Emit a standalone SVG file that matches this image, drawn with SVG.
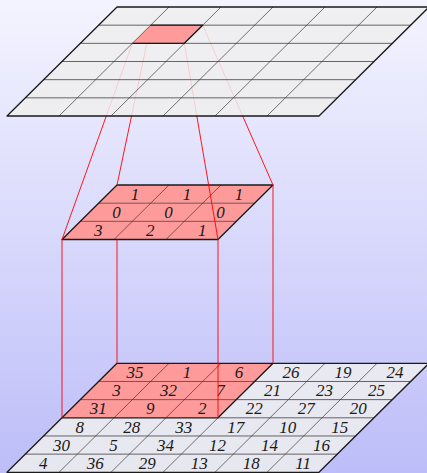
<svg xmlns="http://www.w3.org/2000/svg" width="427" height="473" viewBox="0 0 427 473">
<defs>
<linearGradient id="bg" x1="0" y1="0" x2="0" y2="1">
<stop offset="0" stop-color="#f4f4ff"/>
<stop offset="1" stop-color="#bdbdf9"/>
</linearGradient>
</defs>
<style>
.grid{fill:#efefef;fill-opacity:0.85;stroke:none}
.hl{fill:#ff9a9a;stroke:none}
.out{fill:none;stroke:#1a1a1a;stroke-width:1.3;stroke-linejoin:round}
.in{fill:none;stroke:#3a3a3a;stroke-width:0.7}
.rowl{fill:none;stroke:#555;stroke-width:0.9}
.con{stroke:#ff0000;stroke-width:0.9;fill:none}
text{font-family:"Liberation Serif","DejaVu Serif",serif;font-style:italic;font-size:17px;text-anchor:middle;fill:#1a1a1a}
</style>
<rect x="0" y="0" width="427" height="473" fill="url(#bg)"/>

<g id="input-grid">
<polygon class="grid" points="117,363.3 429,363.3 319,472.3 7,472.3"/>
<polygon class="hl" points="117,363.3 273,363.3 218,417.8 62,417.8"/>
<g class="rowl">
<line x1="98.67" y1="381.47" x2="410.67" y2="381.47"/>
<line x1="80.33" y1="399.63" x2="392.33" y2="399.63"/>
<line x1="43.67" y1="435.97" x2="355.67" y2="435.97"/>
<line x1="25.33" y1="454.13" x2="337.33" y2="454.13"/>
</g>
<line class="rowl" x1="218" y1="417.8" x2="374" y2="417.8"/>
<g class="in">
<line x1="169" y1="363.3" x2="59" y2="472.3"/>
<line x1="221" y1="363.3" x2="111" y2="472.3"/>
<line x1="273" y1="363.3" x2="163" y2="472.3"/>
<line x1="325" y1="363.3" x2="215" y2="472.3"/>
<line x1="377" y1="363.3" x2="267" y2="472.3"/>
</g>
<polyline class="out" points="62,417.8 218,417.8 273,363.3"/>
<polygon class="out" points="117,363.3 429,363.3 319,472.3 7,472.3"/>
<g>
<text x="135" y="378">35</text><text x="187" y="378">1</text><text x="239" y="378">6</text><text x="291" y="378">26</text><text x="343" y="378">19</text><text x="395" y="378">24</text>
<text x="116.5" y="396.2">3</text><text x="168.5" y="396.2">32</text><text x="220.5" y="396.2">7</text><text x="272.5" y="396.2">21</text><text x="324.5" y="396.2">23</text><text x="376.5" y="396.2">25</text>
<text x="98.2" y="414.3">31</text><text x="150.2" y="414.3">9</text><text x="202.2" y="414.3">2</text><text x="254.2" y="414.3">22</text><text x="306.2" y="414.3">27</text><text x="358.2" y="414.3">20</text>
<text x="79.8" y="432.5">8</text><text x="131.8" y="432.5">28</text><text x="183.8" y="432.5">33</text><text x="235.8" y="432.5">17</text><text x="287.8" y="432.5">10</text><text x="339.8" y="432.5">15</text>
<text x="61.5" y="450.6">30</text><text x="113.5" y="450.6">5</text><text x="165.5" y="450.6">34</text><text x="217.5" y="450.6">12</text><text x="269.5" y="450.6">14</text><text x="321.5" y="450.6">16</text>
<text x="43.2" y="468.8">4</text><text x="95.2" y="468.8">36</text><text x="147.2" y="468.8">29</text><text x="199.2" y="468.8">13</text><text x="251.2" y="468.8">18</text><text x="303.2" y="468.8">11</text>
</g>
</g>

<g id="kernel">
<polygon class="hl" points="117,185 273,185 218,239.5 62,239.5"/>
<g class="rowl">
<line x1="98.67" y1="203.17" x2="254.67" y2="203.17"/>
<line x1="80.33" y1="221.33" x2="236.33" y2="221.33"/>
</g>
<g class="in">
<line x1="169" y1="185" x2="114" y2="239.5"/>
<line x1="221" y1="185" x2="166" y2="239.5"/>
</g>
<polygon class="out" points="117,185 273,185 218,239.5 62,239.5"/>
<text x="135" y="199.7">1</text><text x="187" y="199.7">1</text><text x="239" y="199.7">1</text>
<text x="116.5" y="217.9">0</text><text x="168.5" y="217.9">0</text><text x="220.5" y="217.9">0</text>
<text x="98.2" y="236">3</text><text x="150.2" y="236">2</text><text x="202.2" y="236">1</text>
</g>

<g id="connectors">
<line class="con" x1="62" y1="239.5" x2="62" y2="417.8"/>
<line class="con" x1="117" y1="239.5" x2="117" y2="363.3"/>
<line class="con" x1="218" y1="239.5" x2="218" y2="417.8"/>
<line class="con" x1="273" y1="185" x2="273" y2="363.3"/>
<line class="con" x1="132.33" y1="43.33" x2="62" y2="239.5"/>
<line class="con" x1="150.67" y1="25.17" x2="117" y2="185"/>
<line class="con" x1="184.33" y1="43.33" x2="218" y2="239.5"/>
<line class="con" x1="202.67" y1="25.17" x2="273" y2="185"/>
</g>

<g id="output-grid">
<polygon class="grid" points="117,7 429,7 319,116 7,116"/>
<polygon class="hl" points="150.67,25.17 202.67,25.17 184.33,43.33 132.33,43.33"/>
<g class="rowl">
<line x1="98.67" y1="25.17" x2="410.67" y2="25.17"/>
<line x1="80.33" y1="43.33" x2="392.33" y2="43.33"/>
<line x1="62" y1="61.5" x2="374" y2="61.5"/>
<line x1="43.67" y1="79.67" x2="355.67" y2="79.67"/>
<line x1="25.33" y1="97.83" x2="337.33" y2="97.83"/>
</g>
<g class="in">
<line x1="169" y1="7" x2="59" y2="116"/>
<line x1="221" y1="7" x2="111" y2="116"/>
<line x1="273" y1="7" x2="163" y2="116"/>
<line x1="325" y1="7" x2="215" y2="116"/>
<line x1="377" y1="7" x2="267" y2="116"/>
</g>
<polyline class="out" points="150.67,25.17 202.67,25.17 184.33,43.33 132.33,43.33"/>
<polygon class="out" points="117,7 429,7 319,116 7,116"/>
</g>
</svg>
